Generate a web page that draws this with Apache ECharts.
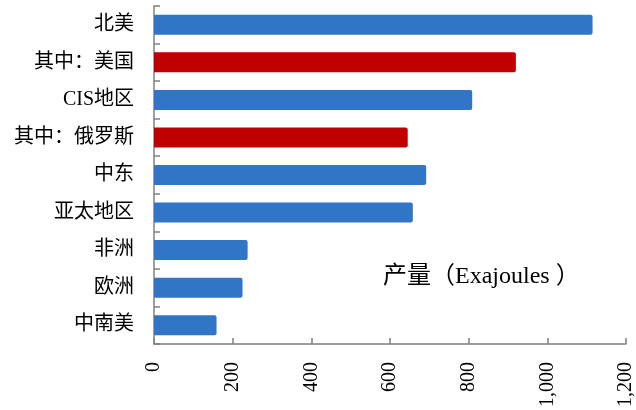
<!DOCTYPE html>
<html>
<head>
<meta charset="utf-8">
<style>
  html, body { margin: 0; padding: 0; background: #fff; }
  #chart { width: 636px; height: 410px; }
</style>
<script src="https://cdn.jsdelivr.net/npm/echarts@6/dist/echarts.min.js"></script>
</head>
<body>
<div id="chart"></div>
<script>
// Regional production, exajoules
const regions = ['北美', '其中：美国', 'CIS地区', '其中：俄罗斯', '中东', '亚太地区', '非洲', '欧洲', '中南美'];
const production = [1115, 920, 809, 645, 692, 658, 238, 225, 159];
// Sub-items ("其中") are drawn in red
const highlighted = ['其中：美国', '其中：俄罗斯'];
const xTicks = [0, 200, 400, 600, 800, 1000, 1200];

const BLUE = '#3175c6';
const RED = '#c00000';
const serif = '"Liberation Serif", "Times New Roman", "Noto Sans CJK SC", serif';

const barData = regions.map((name, i) => ({
  value: production[i],
  itemStyle: { color: highlighted.includes(name) ? RED : BLUE }
}));

const chart = echarts.init(document.getElementById('chart'), null, { renderer: 'canvas' });
chart.setOption({
  animation: false,
  backgroundColor: '#fff',
  grid: { left: 154, right: 8, top: 6, bottom: 66, containLabel: false },
  xAxis: {
    type: 'value',
    min: xTicks[0],
    max: xTicks[xTicks.length - 1],
    interval: xTicks[1] - xTicks[0],
    splitLine: { show: false },
    axisLine: { show: true, lineStyle: { color: '#808080', width: 1.5 } },
    axisTick: { show: true, inside: true, length: 6, lineStyle: { color: '#808080', width: 1.5 } },
    axisLabel: {
      rotate: 90,
      margin: 18,
      color: '#000',
      fontFamily: serif,
      fontSize: 20,
      formatter: v => v.toLocaleString('en-US')
    }
  },
  yAxis: {
    type: 'category',
    data: regions,
    inverse: true,
    axisLine: { show: true, lineStyle: { color: '#808080', width: 1.5 } },
    axisTick: { show: true, inside: true, length: 6, lineStyle: { color: '#808080', width: 1.5 } },
    axisLabel: {
      margin: 20,
      color: '#000',
      fontFamily: serif,
      fontSize: 20
    }
  },
  series: [{
    type: 'bar',
    data: barData,
    barWidth: 20,
    itemStyle: {
      borderRadius: [0, 2, 2, 0]
    }
  }],
  graphic: [{
    type: 'text',
    left: 383,
    top: 265,
    style: {
      text: '产量（Exajoules ）',
      fill: '#000',
      font: '24px ' + serif
    }
  }]
});
</script>
</body>
</html>
